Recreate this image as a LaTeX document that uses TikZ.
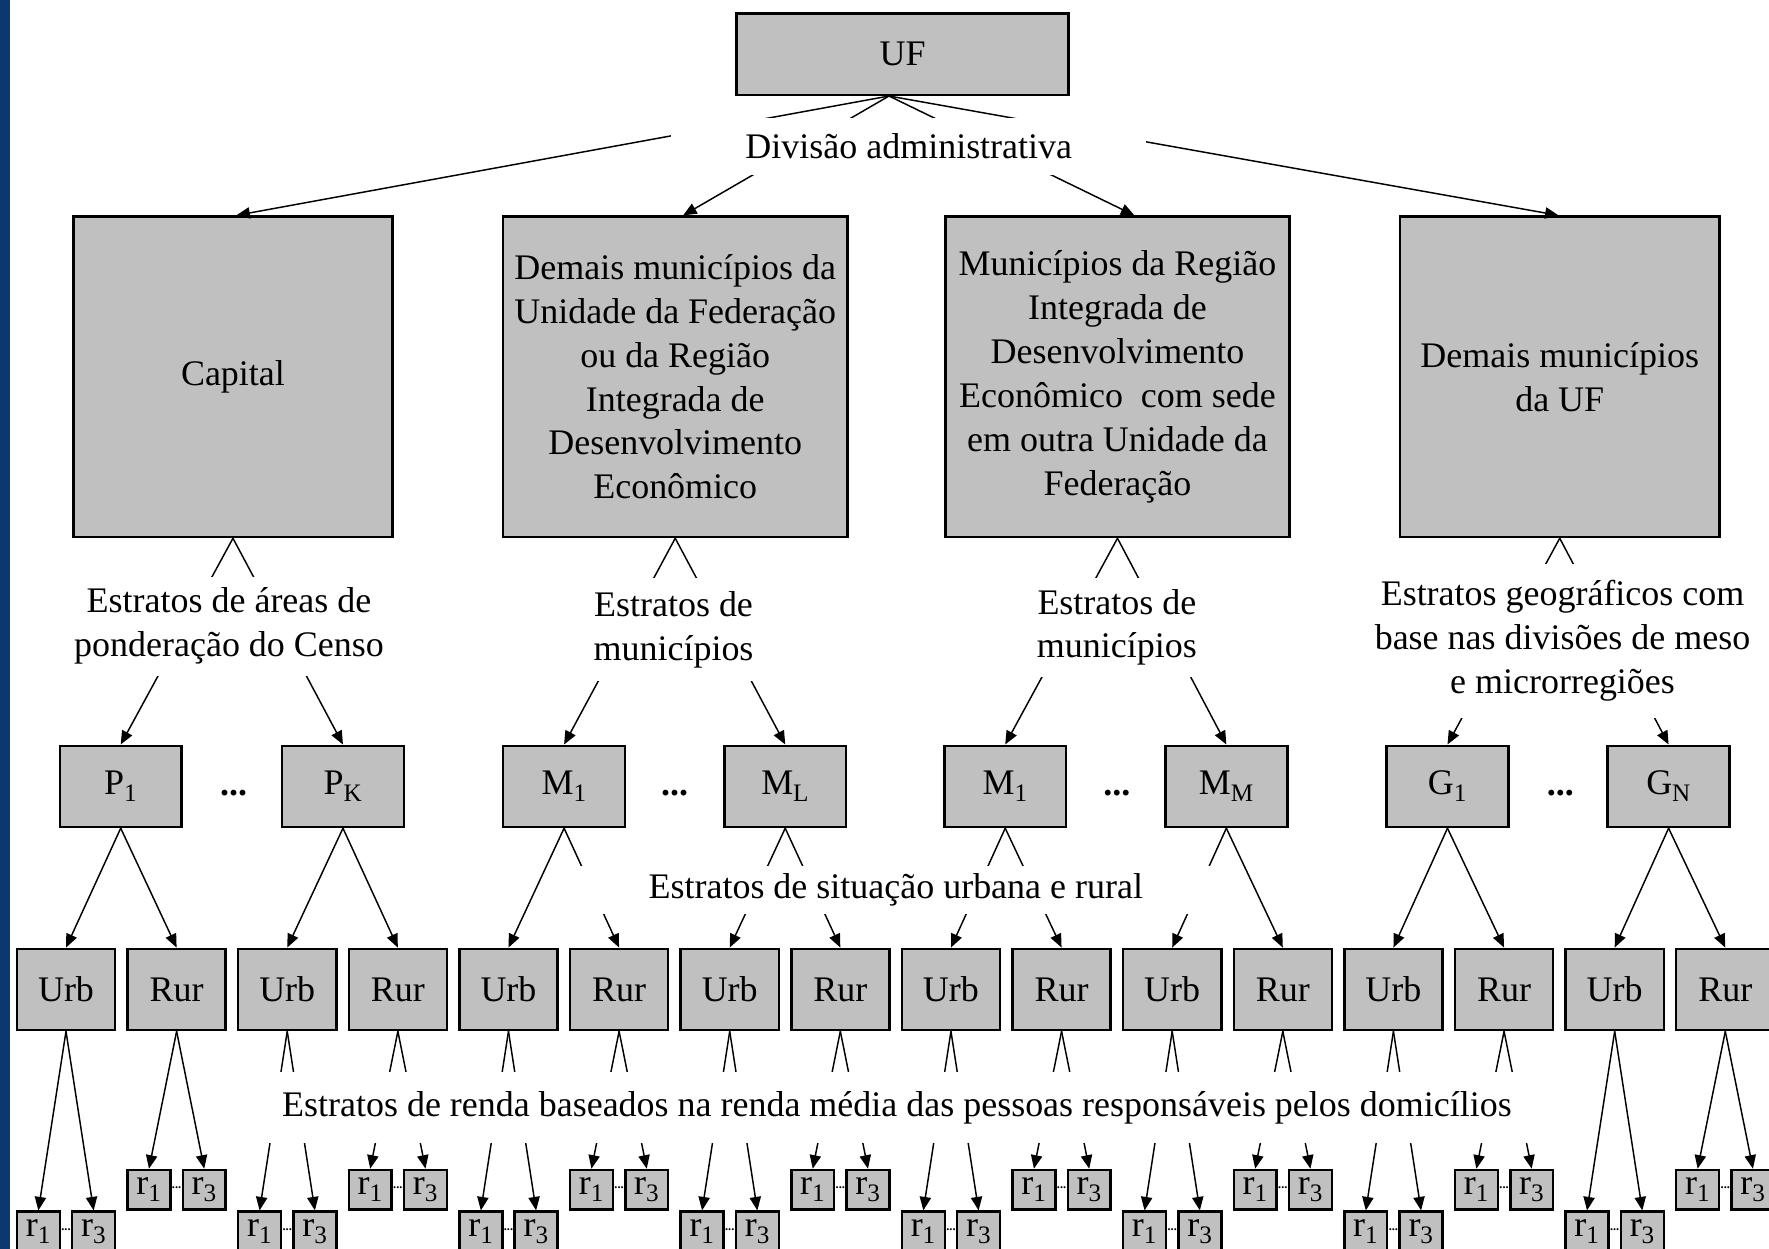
\documentclass[tikz,border=0pt]{standalone}
\usepackage{fontspec}
\setmainfont{Liberation Serif}
\usetikzlibrary{arrows.meta,calc}
\definecolor{boxgray}{RGB}{192,192,192}
\definecolor{barblue}{RGB}{12,56,112}
\begin{document}
\begin{tikzpicture}[x=1bp,y=-1bp,
  txt/.style={font=\fontsize{32}{39}\selectfont},
  box/.style={txt, draw=black, line width=2.2bp, fill=boxgray, inner sep=0pt, align=center},
  lbl/.style={txt, fill=white, inner sep=0pt, align=center},
  conn/.style={line width=1.3bp, -{Triangle[length=12bp,width=10bp]}},
  l4box/.style={box, minimum width=108bp, minimum height=72bp},
  l5box/.style={box, minimum width=87bp, minimum height=72bp},
  rbox/.style={box, minimum width=38bp, minimum height=35bp},
  bigdots/.style={font=\fontsize{32}{39}\selectfont\bfseries, inner sep=0pt},
  tinydots/.style={font=\fontsize{11}{12}\selectfont\bfseries, inner sep=0pt}
]
\useasboundingbox (0,0) rectangle (1568,1107);
\clip (0,0) rectangle (1568,1107);
\fill[white] (0,0) rectangle (1568,1107);
\fill[barblue] (0,0) rectangle (9,1107);

% level 1
\node[box, minimum width=294bp, minimum height=72bp] (uf) at (800,48) {UF};
\coordinate (ufa) at ($(uf.south)+(-12,0)$);

% level 2
\node[box, minimum width=283bp, minimum height=284bp] (cap) at (206.5,334) {Capital};
\node[box, minimum width=305bp, minimum height=284bp] (b2) at (598.5,334) {Demais municípios da\\Unidade da Federação\\ou da Região\\Integrada de\\Desenvolvimento\\Econômico};
\node[box, minimum width=305bp, minimum height=284bp] (b3) at (990.5,334) {Municípios da Região\\Integrada de\\Desenvolvimento\\Econômico\ \ com sede\\em outra Unidade da\\Federação};
\node[box, minimum width=283bp, minimum height=284bp] (b4) at (1382.5,334) {Demais municípios\\da UF};

\draw[conn] (ufa) -- ($(cap.north)+(3,0)$);
\draw[conn] (ufa) -- ($(b2.north)+(7,0)$);
\draw[conn] (ufa) -- ($(b3.north)+(15,0)$);
\draw[conn] (ufa) -- ($(b4.north)+(-1,0)$);

% level 4
\node[l4box] (p1) at (107,697) {P\textsubscript{1}};
\node[l4box] (pk) at (304,697) {P\textsubscript{K}};
\node[l4box] (m1) at (500,697) {M\textsubscript{1}};
\node[l4box] (ml) at (696,697) {M\textsubscript{L}};
\node[l4box] (n1) at (891,697) {M\textsubscript{1}};
\node[l4box] (nm) at (1087,697) {M\textsubscript{M}};
\node[l4box] (g1) at (1283,697) {G\textsubscript{1}};
\node[l4box] (gn) at (1479,697) {G\textsubscript{N}};
\node[bigdots] (d1) at (207,703) {...};
\node[bigdots] (d2) at (598,703) {...};
\node[bigdots] (d3) at (990,703) {...};
\node[bigdots] (d4) at (1383,703) {...};

\draw[conn] (cap.south) -- (p1.north);
\draw[conn] (cap.south) -- (pk.north);
\draw[conn] (b2.south) -- (m1.north);
\draw[conn] (b2.south) -- (ml.north);
\draw[conn] (b3.south) -- (n1.north);
\draw[conn] (b3.south) -- (nm.north);
\draw[conn] (b4.south) -- (g1.north);
\draw[conn] (b4.south) -- (gn.north);

% level 5 and 6
\foreach \i/\parnode in {0/p1,1/pk,2/m1,3/ml,4/n1,5/nm,6/g1,7/gn}{
  \pgfmathsetmacro\xu{58.5+196.1*\i}
  \pgfmathsetmacro\xr{\xu+98.05}
  \node[l5box] (u\i) at (\xu,877) {Urb};
  \node[l5box] (v\i) at (\xr,877) {Rur};
  \draw[conn] (\parnode.south) -- (u\i.north);
  \draw[conn] (\parnode.south) -- (v\i.north);
  \node[rbox] (ua\i) at (\xu-24.5,1091.5) {r\textsubscript{1}};
  \node[rbox] (ub\i) at (\xu+24.5,1091.5) {r\textsubscript{3}};
  \node[tinydots] (ud\i) at (\xu,1090) {...};
  \node[rbox] (va\i) at (\xr-24.5,1054.5) {r\textsubscript{1}};
  \node[rbox] (vb\i) at (\xr+24.5,1054.5) {r\textsubscript{3}};
  \node[tinydots] (vd\i) at (\xr,1053) {...};
  \draw[conn] (u\i.south) -- (ua\i.north);
  \draw[conn] (u\i.south) -- (ub\i.north);
  \draw[conn] (v\i.south) -- (va\i.north);
  \draw[conn] (v\i.south) -- (vb\i.north);
}

% labels (white background interrupts the connectors)
\node[lbl, minimum width=421bp, minimum height=50bp] (lab0) at (805.5,130) {Divisão administrativa};
\node[lbl, minimum width=290bp, minimum height=88bp] (lab1) at (203,555) {Estratos de áreas de\\ponderação do Censo};
\node[lbl, minimum width=220bp, minimum height=91bp] (lab2) at (597,558) {Estratos de\\municípios};
\node[lbl, minimum width=220bp, minimum height=88bp] (lab3) at (990,556) {Estratos de\\municípios};
\node[lbl, minimum width=345bp, minimum height=137bp] (lab4) at (1385,568) {Estratos geográficos com\\base nas divisões de meso\\e microrregiões};
\node[lbl, minimum width=588bp, minimum height=43bp] (lab5) at (794,789) {Estratos de situação urbana e rural};
\node[lbl, minimum width=1160bp, minimum height=63bp] (lab6) at (795,981.5) {Estratos de renda baseados na renda média das pessoas responsáveis pelos domicílios};
\end{tikzpicture}
\end{document}
